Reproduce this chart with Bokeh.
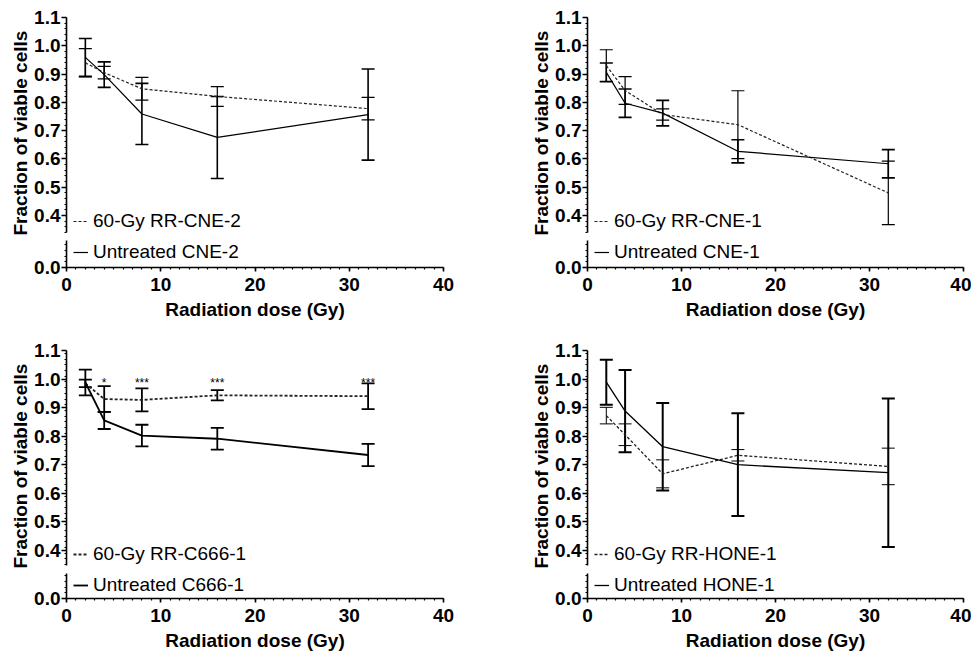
import numpy as np
from bokeh.plotting import figure
from bokeh.models import (Range1d, FixedTicker, NumeralTickFormatter, Whisker, TeeHead,
                          ColumnDataSource, Legend, LegendItem, Title)
from bokeh.layouts import column, row
from bokeh.embed import file_html
from bokeh.resources import INLINE

# ---------------- data ----------------
dose = [2, 4, 8, 16, 32]
x_ticks = [0, 10, 20, 30, 40]
y_ticks = [0.4, 0.5, 0.6, 0.7, 0.8, 0.9, 1.0, 1.1]
y_ticks_low = [0.0]

cne2_rr = [0.940, 0.905, 0.848, 0.821, 0.778]
cne2_rr_err = [0.050, 0.022, 0.040, 0.035, 0.040]
cne2_un = [0.959, 0.898, 0.759, 0.676, 0.757]
cne2_un_err = [0.067, 0.045, 0.108, 0.145, 0.161]

cne1_rr = [0.930, 0.842, 0.757, 0.721, 0.480]
cne1_rr_err = [0.056, 0.049, 0.020, 0.120, 0.112]
cne1_un = [0.906, 0.797, 0.762, 0.627, 0.583]
cne1_un_err = [0.033, 0.050, 0.045, 0.041, 0.050]

c666_rr = [0.985, 0.930, 0.927, 0.943, 0.940]
c666_rr_err = [0.013, 0.045, 0.040, 0.018, 0.045]
c666_un = [0.988, 0.855, 0.802, 0.791, 0.734]
c666_un_err = [0.045, 0.030, 0.038, 0.038, 0.039]
c666_sig_x = [4, 8, 16, 32]
c666_sig_y = [0.987, 0.987, 0.987, 0.987]
c666_sig_text = ["*", "***", "***", "***"]

hone1_rr = [0.872, 0.805, 0.668, 0.733, 0.694]
hone1_rr_err = [0.029, 0.038, 0.049, 0.020, 0.064]
hone1_un = [0.989, 0.888, 0.763, 0.700, 0.672]
hone1_un_err = [0.079, 0.144, 0.153, 0.180, 0.260]

FONT = "Liberation Sans"


def style_axis(ax):
    ax.axis_line_width = 1.6
    ax.axis_line_color = "black"
    ax.major_tick_line_width = 1.6
    ax.minor_tick_line_width = 1.2
    ax.major_tick_line_color = "black"
    ax.minor_tick_line_color = "black"
    ax.major_tick_in = 0
    ax.minor_tick_in = 0
    ax.major_tick_out = 5
    ax.minor_tick_out = 2
    ax.major_label_text_font = FONT
    ax.major_label_text_font_style = "bold"
    ax.major_label_text_font_size = "19px"
    ax.major_label_text_color = "black"


def make_panel(rr, rr_err, un, un_err, rr_label, un_label, width, bl, br,
               up_height, up_bt, lo_height, lo_bb, ylo, ylo_top, lw, lw_rr_bar, lw_un_bar,
               leg1_y, leg2_y, sig=None):
    xr = Range1d(0, 40)
    up = figure(width=width, height=up_height, x_range=xr, y_range=Range1d(ylo, 1.1),
                output_backend="svg", toolbar_location=None, x_axis_location=None,
                min_border_left=bl, min_border_right=br, min_border_top=up_bt,
                min_border_bottom=4, outline_line_color=None)
    up.grid.visible = False
    style_axis(up.yaxis[0])
    up.yaxis.ticker = FixedTicker(ticks=y_ticks,
                                  minor_ticks=[round(v, 2) for v in np.arange(ylo, 1.1001, 0.02)])
    up.yaxis.formatter = NumeralTickFormatter(format="0.0")
    up.yaxis.major_label_standoff = 1
    up.add_layout(Title(text="Fraction of viable cells", align="left", offset=-3, standoff=2,
                        text_font=FONT, text_font_style="bold", text_font_size="19px",
                        text_color="black"), "left")

    r_rr = up.line(dose, rr, line_dash="3 2", line_width=lw, color="#222222")
    up.line(dose, un, line_width=lw, color="black")

    for m, e, blw in ((rr, rr_err, lw_rr_bar), (un, un_err, lw_un_bar)):
        src = ColumnDataSource(dict(x=dose,
                                    upper=[a + b for a, b in zip(m, e)],
                                    lower=[a - b for a, b in zip(m, e)]))
        up.add_layout(Whisker(source=src, base="x", upper="upper", lower="lower",
                              line_width=blw, line_color="black",
                              upper_head=TeeHead(size=13, line_width=blw, line_color="black"),
                              lower_head=TeeHead(size=13, line_width=blw, line_color="black")))

    if sig is not None:
        sx, sy, st = sig
        up.text(x=sx, y=sy, text=st, text_align="center", text_baseline="middle",
                text_font_size="12px", text_color="black")

    up.add_layout(Legend(items=[LegendItem(label=rr_label, renderers=[r_rr])],
                         location=(7, leg1_y), margin=0, padding=0, glyph_width=15,
                         glyph_height=20, label_height=20, label_standoff=5,
                         label_text_font=FONT, label_text_font_size="19px",
                         label_text_color="black",
                         background_fill_alpha=0, border_line_alpha=0))

    lo = figure(width=width, height=lo_height, x_range=xr, y_range=Range1d(0, ylo_top),
                output_backend="svg", toolbar_location=None,
                min_border_left=bl, min_border_right=br, min_border_top=4,
                min_border_bottom=lo_bb, outline_line_color=None)
    lo.grid.visible = False
    style_axis(lo.yaxis[0])
    style_axis(lo.xaxis[0])
    lo.yaxis.ticker = FixedTicker(ticks=y_ticks_low, minor_ticks=[0.02, 0.04, 0.06, 0.08])
    lo.yaxis.formatter = NumeralTickFormatter(format="0.0")
    lo.yaxis.major_label_standoff = 1
    lo.xaxis.ticker = FixedTicker(ticks=x_ticks, minor_ticks=list(range(0, 41)))
    lo.xaxis.major_tick_out = 4
    lo.xaxis.major_label_standoff = 6
    lo.xaxis.axis_label = "Radiation dose (Gy)"
    lo.xaxis.axis_label_standoff = 5
    lo.xaxis.axis_label_text_font = FONT
    lo.xaxis.axis_label_text_font_style = "bold"
    lo.xaxis.axis_label_text_font_size = "19px"
    lo.xaxis.axis_label_text_color = "black"
    r_un_lo = lo.line(dose, un, line_width=lw, color="black")
    lo.add_layout(Legend(items=[LegendItem(label=un_label, renderers=[r_un_lo])],
                         location=(7, leg2_y), margin=0, padding=0, glyph_width=15,
                         glyph_height=20, label_height=20, label_standoff=5,
                         label_text_font=FONT, label_text_font_size="19px",
                         label_text_color="black",
                         background_fill_alpha=0, border_line_alpha=0))
    return column(up, lo)


W1, W2 = 527, 444
p1 = make_panel(cne2_rr, cne2_rr_err, cne2_un, cne2_un_err, "60-Gy RR-CNE-2", "Untreated CNE-2",
                W1, 66, 84, 236, 17, 105, 74, 0.34, 0.095, 1.2, 1.2, 1.6, 0, 4)
p2 = make_panel(cne1_rr, cne1_rr_err, cne1_un, cne1_un_err, "60-Gy RR-CNE-1", "Untreated CNE-1",
                W2, 58, 8, 236, 17, 105, 74, 0.34, 0.095, 1.2, 1.2, 1.6, 0, 4)
p3 = make_panel(c666_rr, c666_rr_err, c666_un, c666_un_err, "60-Gy RR-C666-1", "Untreated C666-1",
                W1, 66, 84, 228, 9, 86, 57, 0.347, 0.088, 1.8, 1.8, 1.8, 0, 2,
                sig=(c666_sig_x, c666_sig_y, c666_sig_text))
p4 = make_panel(hone1_rr, hone1_rr_err, hone1_un, hone1_un_err, "60-Gy RR-HONE-1", "Untreated HONE-1",
                W2, 58, 8, 228, 9, 86, 57, 0.347, 0.088, 1.3, 1.0, 2.0, 0, 2)

layout = column(row(p1, p2), row(p3, p4))

open("out.html", "w").write(file_html(layout, INLINE))
